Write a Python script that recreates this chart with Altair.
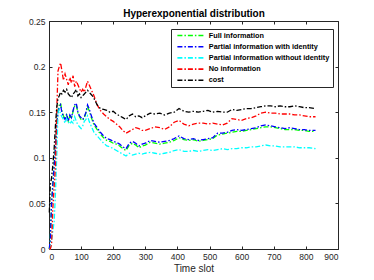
import altair as alt
import pandas as pd

TIME = [1, 4, 8, 12, 16, 20, 24, 28, 32, 36,
        40, 45, 50, 55, 60, 65, 70, 75, 80, 85, 90, 95, 100, 105, 110, 115, 120, 125, 130, 135, 140,
        150, 160, 170, 180, 190, 200, 210, 220, 230, 240, 250, 260, 270, 280, 290, 300,
        315, 330, 345, 360, 375, 390, 405, 420, 435, 450, 465, 480, 495, 510, 525, 540, 555, 570,
        585, 600, 615, 630, 645, 660, 675, 690, 705, 720, 735, 750, 765, 780, 795, 810,
        830]

FULL = [0.000, 0.012, 0.052, 0.072, 0.092, 0.112, 0.138, 0.152, 0.158, 0.160,
        0.152, 0.146, 0.142, 0.147, 0.140, 0.146, 0.143, 0.151, 0.157, 0.158, 0.149, 0.145, 0.142, 0.141, 0.144, 0.149, 0.156, 0.152, 0.146, 0.141, 0.136,
        0.131, 0.126, 0.122, 0.119, 0.118, 0.116, 0.115, 0.113, 0.110, 0.108, 0.114, 0.116, 0.114, 0.111, 0.113, 0.114,
        0.117, 0.116, 0.115, 0.116, 0.117, 0.119, 0.122, 0.120, 0.119, 0.120, 0.118, 0.119, 0.120, 0.121, 0.125, 0.126, 0.127, 0.128,
        0.129, 0.129, 0.130, 0.131, 0.132, 0.133, 0.134, 0.134, 0.133, 0.132, 0.131, 0.131, 0.131, 0.130, 0.130, 0.129,
        0.129]

PARTIAL_ID = [0.000, 0.010, 0.050, 0.070, 0.090, 0.110, 0.135, 0.150, 0.155, 0.158,
              0.150, 0.145, 0.142, 0.148, 0.140, 0.147, 0.144, 0.152, 0.158, 0.160, 0.150, 0.146, 0.144, 0.142, 0.145, 0.150, 0.158, 0.154, 0.148, 0.143, 0.138,
              0.133, 0.128, 0.124, 0.121, 0.120, 0.118, 0.117, 0.115, 0.112, 0.110, 0.116, 0.118, 0.116, 0.113, 0.115, 0.116,
              0.119, 0.118, 0.117, 0.118, 0.119, 0.121, 0.124, 0.121, 0.120, 0.121, 0.119, 0.120, 0.121, 0.122, 0.127, 0.127, 0.128, 0.130,
              0.131, 0.130, 0.131, 0.132, 0.133, 0.135, 0.136, 0.135, 0.134, 0.133, 0.132, 0.133, 0.132, 0.131, 0.131, 0.130,
              0.130]

PARTIAL_NOID = [0.000, 0.000, 0.010, 0.020, 0.030, 0.060, 0.100, 0.150, 0.153, 0.148,
                0.145, 0.142, 0.138, 0.143, 0.140, 0.137, 0.140, 0.138, 0.145, 0.140, 0.136, 0.134, 0.132, 0.135, 0.140, 0.142, 0.146, 0.140, 0.136, 0.132, 0.128,
                0.124, 0.120, 0.116, 0.113, 0.112, 0.110, 0.108, 0.106, 0.104, 0.102, 0.105, 0.103, 0.104, 0.105, 0.104, 0.105,
                0.106, 0.105, 0.104, 0.105, 0.106, 0.108, 0.109, 0.107, 0.107, 0.108, 0.107, 0.108, 0.109, 0.108, 0.109, 0.110, 0.109, 0.110,
                0.110, 0.111, 0.111, 0.112, 0.112, 0.113, 0.114, 0.113, 0.113, 0.112, 0.112, 0.112, 0.112, 0.111, 0.111, 0.111,
                0.110]

NO_INFO = [0.000, 0.000, 0.005, 0.045, 0.068, 0.090, 0.150, 0.195, 0.200, 0.204,
           0.196, 0.185, 0.192, 0.186, 0.180, 0.188, 0.182, 0.190, 0.178, 0.184, 0.180, 0.176, 0.172, 0.175, 0.172, 0.178, 0.184, 0.180, 0.176, 0.172, 0.168,
           0.158, 0.152, 0.148, 0.145, 0.142, 0.140, 0.137, 0.134, 0.130, 0.127, 0.129, 0.131, 0.133, 0.132, 0.130, 0.130,
           0.132, 0.134, 0.133, 0.131, 0.134, 0.139, 0.141, 0.137, 0.135, 0.137, 0.138, 0.138, 0.137, 0.138, 0.137, 0.136, 0.138, 0.143,
           0.142, 0.141, 0.143, 0.144, 0.146, 0.149, 0.150, 0.149, 0.149, 0.148, 0.148, 0.148, 0.147, 0.147, 0.146, 0.145,
           0.145]

COST = [0.040, 0.070, 0.078, 0.092, 0.110, 0.135, 0.155, 0.165, 0.168, 0.172,
        0.170, 0.174, 0.172, 0.175, 0.170, 0.168, 0.166, 0.170, 0.172, 0.175, 0.168, 0.170, 0.166, 0.168, 0.170, 0.172, 0.174, 0.172, 0.170, 0.168, 0.165,
        0.158, 0.154, 0.153, 0.152, 0.150, 0.151, 0.148, 0.146, 0.144, 0.142, 0.146, 0.148, 0.145, 0.146, 0.144, 0.146,
        0.149, 0.148, 0.149, 0.147, 0.149, 0.150, 0.154, 0.151, 0.150, 0.151, 0.150, 0.151, 0.152, 0.150, 0.151, 0.150, 0.150, 0.153,
        0.152, 0.153, 0.154, 0.154, 0.155, 0.156, 0.157, 0.157, 0.156, 0.157, 0.156, 0.156, 0.157, 0.156, 0.155, 0.155,
        0.154]

SERIES = ["Full information", "Partial information with identity",
          "Partial information without identity", "No information", "cost"]
COLORS = ["#00ff00", "#0000ff", "#00ffff", "#ff0000", "#000000"]
XTICKS = [0, 100, 200, 300, 400, 500, 600, 700, 800, 900]
YTICKS = [0, 0.05, 0.1, 0.15, 0.2, 0.25]
TITLE = "Hyperexponential distribution"

rows = []
for name, vals in zip(SERIES, [FULL, PARTIAL_ID, PARTIAL_NOID, NO_INFO, COST]):
    for t, v in zip(TIME, vals):
        rows.append({"t": t, "v": v, "series": name})
df = pd.DataFrame(rows)

AX = "#262626"
FONT = "Liberation Sans"
W, H = 289, 228

xs = alt.Scale(domain=[0, 900], nice=False)
ys = alt.Scale(domain=[0, 0.25], nice=False)

x_axis = alt.Axis(values=XTICKS, grid=False, domain=False, tickSize={"expr": "-3"},
                  tickColor=AX, labelPadding=6.5, labelFont=FONT, labelFontSize=8.5,
                  labelColor=AX, title="Time slot", titleFont=FONT, titleFontSize=10,
                  titleFontWeight="normal", titleColor=AX, titleY=22,
                  titleBaseline="alphabetic", orient="bottom")
y_axis = alt.Axis(values=YTICKS, grid=False, domain=False, tickSize={"expr": "-3"},
                  tickColor=AX, labelPadding=7, labelFont=FONT, labelFontSize=8.5,
                  labelColor=AX, format="~g", title=None, orient="left")

lines = alt.Chart(df).mark_line(strokeWidth=1.3, strokeDash=[5, 2, 1.5, 2]).encode(
    x=alt.X("t:Q", scale=xs, axis=x_axis),
    y=alt.Y("v:Q", scale=ys, axis=y_axis),
    color=alt.Color("series:N", scale=alt.Scale(domain=SERIES, range=COLORS),
                    legend=alt.Legend(orient="none", legendX=122, legendY=8, title=None,
                                      symbolType="M-6,0H6", symbolSize=20.25,
                                      symbolStrokeWidth=1.6, symbolDash=[5, 2, 1.5, 2],
                                      symbolOffset=13.4, labelOffset=14.25,
                                      labelFont=FONT, labelFontSize=7.3,
                                      labelFontWeight="bold", labelColor="#000000",
                                      labelLimit=300, rowPadding=3.2, padding=2.85,
                                      strokeColor=AX, fillColor="white")),
)

frame = alt.Chart(df).mark_point(opacity=0).encode(
    x=alt.X("t:Q", scale=xs, axis=alt.Axis(values=XTICKS, grid=False, domain=False,
                                          labels=False, tickSize={"expr": "-3"},
                                          tickColor=AX, title=TITLE, titleFont=FONT,
                                          titleFontSize=10, titleFontWeight="bold",
                                          titleColor="#000000", titleY=-4.3,
                                          titleBaseline="alphabetic", orient="top")),
    y=alt.Y("v:Q", scale=ys, axis=alt.Axis(values=YTICKS, grid=False, domain=False,
                                          labels=False, tickSize={"expr": "-3"},
                                          tickColor=AX, title=None, orient="right")),
)

chart = alt.layer(lines, frame).resolve_axis(x="independent", y="independent").properties(
    width=W, height=H,
    autosize=alt.AutoSizeParams(type="none"),
    padding={"left": 41, "top": 13, "right": 28, "bottom": 23},
).configure_view(stroke=AX, strokeWidth=1)

chart.save("out.html", embed_options={"renderer": "svg", "actions": False})
